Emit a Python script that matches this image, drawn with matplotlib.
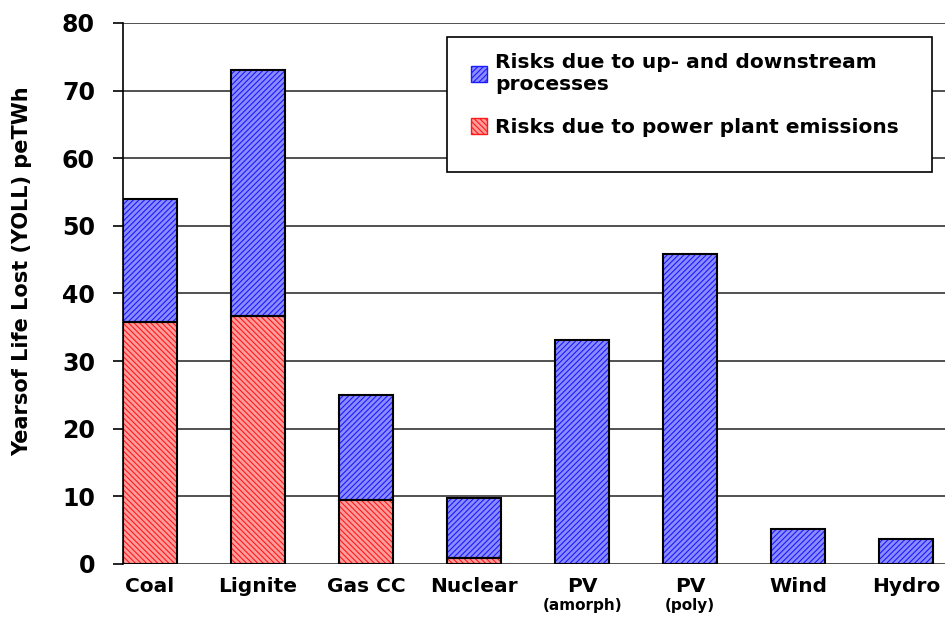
import numpy as np
import matplotlib
matplotlib.use('Agg')
import matplotlib.pyplot as plt
from matplotlib.patches import Patch, Rectangle

# data
categories = ['Coal', 'Lignite', 'Gas CC', 'Nuclear', 'PV', 'PV', 'Wind', 'Hydro']
subtitles = ['', '', '', '', '(amorph)', '(poly)', '', '']
plant = [35.8, 36.7, 9.5, 0.9, 0.0, 0.0, 0.0, 0.0]
total = [54.0, 73.1, 25.0, 9.8, 33.1, 45.8, 5.2, 3.7]
updown = [t - p for t, p in zip(total, plant)]
yticks = [0, 10, 20, 30, 40, 50, 60, 70, 80]

blue_face, blue_hatch = '#8c8cff', '#1a1aff'
red_face, red_hatch = '#ff9c9c', '#ff1a1a'

plt.rcParams['font.family'] = 'DejaVu Sans'
plt.rcParams['hatch.linewidth'] = 0.8

fig = plt.figure(figsize=(9.47, 6.21), dpi=100)
ax = fig.add_axes([0.1299, 0.0918, 0.868, 0.8712])

x = np.arange(len(categories))
w = 0.5

# hatched fills first, then black outlines on top
ax.bar(x, plant, w, color=red_face, edgecolor=red_hatch, hatch='\\\\\\\\\\\\', lw=0, zorder=3)
ax.bar(x, updown, w, bottom=plant, color=blue_face, edgecolor=blue_hatch, hatch='//////', lw=0, zorder=3)
for i in range(len(categories)):
    if plant[i] > 0:
        ax.bar(x[i], plant[i], w, fill=False, edgecolor='black', lw=1.5, zorder=4)
    ax.bar(x[i], updown[i], w, bottom=plant[i], fill=False, edgecolor='black', lw=1.5, zorder=4)

ax.set_xlim(-0.25, 7.36)
ax.set_ylim(0, 80)
ax.set_yticks(yticks)
ax.set_yticklabels([str(v) for v in yticks], fontsize=17, fontweight='bold')
ax.yaxis.grid(True, color='#333333', lw=1.2)
ax.set_axisbelow(True)
ax.tick_params(axis='y', length=7.2, width=1.2, pad=13)
ax.tick_params(axis='x', length=0, pad=16)
for s in ['top', 'right', 'bottom']:
    ax.spines[s].set_visible(False)
ax.spines['left'].set_linewidth(1.2)

ax.set_xticks(x)
ax.set_xticklabels(categories, fontsize=14.5, fontweight='bold', va='center')
for i, sub in enumerate(subtitles):
    if sub:
        ax.text(x[i], -6.2, sub, ha='center', va='center', fontsize=11, fontweight='bold')

ax.text(-0.1229, 0.5416, 'Yearsof Life Lost (YOLL) peTWh', transform=ax.transAxes,
        rotation=90, ha='center', va='center', fontsize=15, fontweight='bold')

# legend box
ax.add_patch(Rectangle((0.394, 0.725), 0.59, 0.249, transform=ax.transAxes,
                       facecolor='white', edgecolor='black', lw=1.2, zorder=5))
handles = [Patch(facecolor=blue_face, edgecolor=blue_hatch, hatch='//////'),
           Patch(facecolor=red_face, edgecolor=red_hatch, hatch='\\\\\\\\\\\\')]
labels = ['Risks due to up- and downstream\nprocesses', 'Risks due to power plant emissions']
leg = ax.legend(handles, labels, loc='upper left', bbox_to_anchor=(0.4015, 0.978),
                frameon=False, prop={'weight': 'bold', 'size': 14.5},
                handlelength=0.8, handleheight=0.8, handletextpad=0.4, labelspacing=1.2)
leg.set_zorder(6)

fig.savefig('out.png', dpi=100)
